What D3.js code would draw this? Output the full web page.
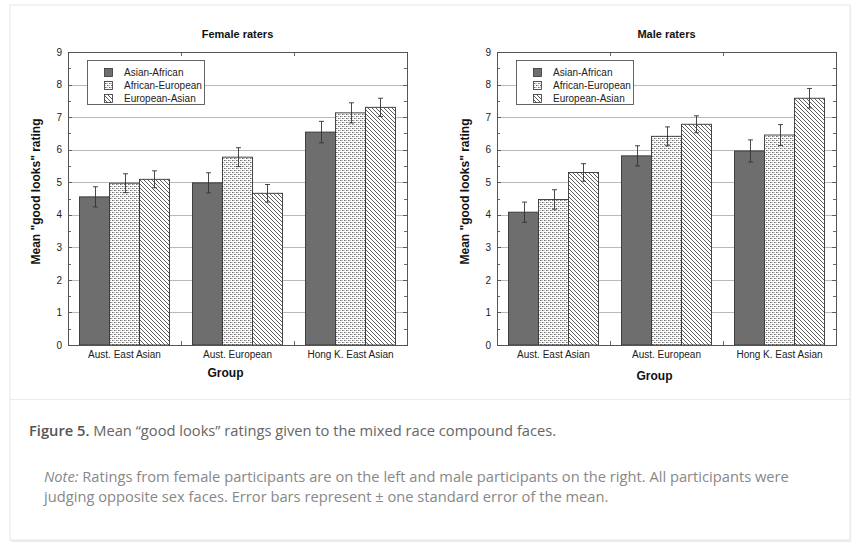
<!DOCTYPE html>
<html>
<head>
<meta charset="utf-8">
<script src="https://cdn.jsdelivr.net/npm/d3@7"></script>
<style>
  html, body { margin: 0; padding: 0; background: #fff; }
  svg { display: block; }
</style>
</head>
<body>
<svg id="chart" width="859" height="545"></svg>
<script>
// ---- data ----
const groups = ['Aust. East Asian', 'Aust. European', 'Hong K. East Asian']
const series = ['Asian-African', 'African-European', 'European-Asian']
const yTicks = [0, 1, 2, 3, 4, 5, 6, 7, 8, 9]

// rows = groups, columns = series
const femaleMeans = [
  [4.55, 4.97, 5.09],
  [4.98, 5.77, 4.66],
  [6.54, 7.13, 7.30],
]
const femaleSE = [
  [0.31, 0.29, 0.26],
  [0.31, 0.29, 0.27],
  [0.33, 0.31, 0.28],
]
const maleMeans = [
  [4.08, 4.47, 5.30],
  [5.81, 6.41, 6.78],
  [5.96, 6.45, 7.58],
]
const maleSE = [
  [0.31, 0.30, 0.27],
  [0.31, 0.29, 0.26],
  [0.34, 0.32, 0.30],
]

const FONT = "'Liberation Sans', Arial, Helvetica, sans-serif"
const CAP_FONT = "'Open Sans', 'Noto Sans', sans-serif"

const svg = d3.select('#chart')

// ─── patterns ───
const defs = svg.append('defs')
const dots = defs.append('pattern')
  .attr('id', 'pat-dots').attr('patternUnits', 'userSpaceOnUse')
  .attr('width', 4).attr('height', 4)
dots.append('rect').attr('width', 4).attr('height', 4).attr('fill', '#fff')
// stipple: strong specks on a checker, faint ones in between
;[[0, 0, '#6a6a6a'], [2, 2, '#6a6a6a'], [2, 0, '#c4c4c4'], [0, 2, '#c4c4c4']].forEach(([x, y, c]) => {
  dots.append('rect').attr('x', x).attr('y', y).attr('width', 1).attr('height', 1).attr('fill', c)
})
dots.append('rect').attr('x', 1).attr('y', 0).attr('width', 1).attr('height', 1).attr('fill', '#b0b0b0')
dots.append('rect').attr('x', 3).attr('y', 2).attr('width', 1).attr('height', 1).attr('fill', '#b0b0b0')

const hatch = defs.append('pattern')
  .attr('id', 'pat-hatch').attr('patternUnits', 'userSpaceOnUse')
  .attr('width', 4).attr('height', 4)
hatch.append('rect').attr('width', 4).attr('height', 4).attr('fill', '#fff')
hatch.append('path')
  .attr('d', 'M-1,-1 L5,5 M-1,3 L1,5 M3,-1 L5,1')
  .attr('stroke', '#333').attr('stroke-width', 0.8)

const fills = ['#6e6e6e', 'url(#pat-dots)', 'url(#pat-hatch)']

// ─── card ───
svg.append('rect')
  .attr('x', 11).attr('y', 7).attr('width', 840).attr('height', 535)
  .attr('fill', '#ececec')
svg.append('rect')
  .attr('x', 10).attr('y', 5).attr('width', 840).attr('height', 535)
  .attr('fill', '#fff').attr('stroke', '#e8e8e8')
svg.append('line')
  .attr('x1', 10).attr('x2', 850).attr('y1', 399.5).attr('y2', 399.5)
  .attr('stroke', '#ececec')

// ─── one panel ───
function drawPanel(title, means, ses, left, right, groupY) {
  const top = 52, bottom = 345
  const g = svg.append('g')

  const y = d3.scaleLinear().domain([0, 9]).range([bottom, top])
  const x0 = d3.scaleBand().domain(groups).range([left, right])
  const bw = x0.bandwidth()
  const x1 = d3.scaleBand().domain(series).range([bw * 0.102, bw * 0.898])

  // gridlines
  g.append('g').selectAll('line')
    .data(yTicks.filter(d => d > 0 && d < 9))
    .join('line')
    .attr('x1', left).attr('x2', right)
    .attr('y1', d => Math.round(y(d)) + 0.5).attr('y2', d => Math.round(y(d)) + 0.5)
    .attr('stroke', '#a8a8a8').attr('stroke-width', 0.8)

  // bars
  const rows = []
  means.forEach((row, gi) => row.forEach((v, si) => rows.push({
    group: groups[gi], series: series[si], si, v, se: ses[gi][si]
  })))

  g.append('g').selectAll('rect')
    .data(rows)
    .join('rect')
    .attr('x', d => x0(d.group) + x1(d.series))
    .attr('y', d => y(d.v))
    .attr('width', x1.bandwidth())
    .attr('height', d => y(0) - y(d.v))
    .attr('fill', d => fills[d.si])
    .attr('stroke', '#333').attr('stroke-width', 0.9)

  // error bars
  const eb = g.append('g').attr('stroke', '#333').attr('stroke-width', 0.9)
  rows.forEach(d => {
    const cx = Math.round(x0(d.group) + x1(d.series) + x1.bandwidth() / 2) + 0.5
    const yt = y(d.v + d.se), yb = y(d.v - d.se)
    eb.append('line').attr('x1', cx).attr('x2', cx).attr('y1', yt).attr('y2', yb)
    eb.append('line').attr('x1', cx - 2.5).attr('x2', cx + 2.5).attr('y1', yt).attr('y2', yt)
    eb.append('line').attr('x1', cx - 2.5).attr('x2', cx + 2.5).attr('y1', yb).attr('y2', yb)
  })

  // frame
  g.append('rect')
    .attr('x', left + 0.5).attr('y', top + 0.5)
    .attr('width', right - left).attr('height', bottom - top)
    .attr('fill', 'none').attr('stroke', '#555').attr('stroke-width', 1)

  // y ticks (inward on both sides, minor at halves)
  const halfTicks = d3.range(0.5, 9, 1)
  const tk = g.append('g').attr('stroke', '#555').attr('stroke-width', 0.9)
  yTicks.forEach(d => {
    const yy = Math.round(y(d)) + 0.5
    tk.append('line').attr('x1', left).attr('x2', left + 4).attr('y1', yy).attr('y2', yy)
    tk.append('line').attr('x1', right - 4).attr('x2', right).attr('y1', yy).attr('y2', yy)
  })
  halfTicks.forEach(d => {
    const yy = Math.round(y(d)) + 0.5
    tk.append('line').attr('x1', left).attr('x2', left + 3).attr('y1', yy).attr('y2', yy)
    tk.append('line').attr('x1', right - 3).attr('x2', right).attr('y1', yy).attr('y2', yy)
  })
  // group boundary ticks
  groups.slice(1).forEach(grp => {
    const xx = Math.round(x0(grp)) + 0.5
    tk.append('line').attr('x1', xx).attr('x2', xx).attr('y1', top).attr('y2', top + 4)
    tk.append('line').attr('x1', xx).attr('x2', xx).attr('y1', bottom - 4).attr('y2', bottom)
  })

  // y axis labels
  const yAxis = d3.axisLeft(y).tickValues(yTicks).tickSize(0).tickPadding(6)
  g.append('g')
    .attr('transform', `translate(${left},0)`)
    .call(yAxis)
    .call(a => a.select('.domain').remove())
    .call(a => a.selectAll('.tick text')
      .attr('font-size', '10px').attr('font-family', FONT).attr('fill', '#222'))

  // x axis labels
  const xAxis = d3.axisBottom(x0).tickSize(0).tickPadding(6)
  g.append('g')
    .attr('transform', `translate(0,${bottom})`)
    .call(xAxis)
    .call(a => a.select('.domain').remove())
    .call(a => a.selectAll('.tick text')
      .attr('font-size', '10px').attr('font-family', FONT).attr('fill', '#222'))

  // titles
  const cx = (left + right) / 2
  g.append('text')
    .attr('x', cx).attr('y', 38)
    .attr('text-anchor', 'middle')
    .attr('font-size', '11px').attr('font-weight', 'bold').attr('font-family', FONT)
    .attr('fill', '#111')
    .text(title)

  g.append('text')
    .attr('x', cx - 12).attr('y', groupY)
    .attr('text-anchor', 'middle')
    .attr('font-size', '12px').attr('font-weight', 'bold').attr('font-family', FONT)
    .attr('fill', '#111')
    .text('Group')

  g.append('text')
    .attr('transform', `translate(${left - 28},${(top + bottom) / 2 - 7}) rotate(-90)`)
    .attr('text-anchor', 'middle')
    .attr('font-size', '12px').attr('font-weight', 'bold').attr('font-family', FONT)
    .attr('fill', '#111')
    .text('Mean "good looks" rating')

  // legend
  const lg = g.append('g').attr('transform', `translate(${left + 19},60)`)
  lg.append('rect')
    .attr('x', 0.5).attr('y', 0.5).attr('width', 117).attr('height', 44)
    .attr('fill', '#fff').attr('stroke', '#555').attr('stroke-width', 0.9)
  series.forEach((s, i) => {
    const row = lg.append('g').attr('transform', `translate(0,${8 + i * 13})`)
    row.append('rect')
      .attr('x', 17.5).attr('y', 0.5).attr('width', 8).attr('height', 8)
      .attr('fill', fills[i]).attr('stroke', '#333').attr('stroke-width', 0.8)
    row.append('text')
      .attr('x', 37).attr('y', 8)
      .attr('font-size', '10px').attr('font-family', FONT).attr('fill', '#222')
      .text(s)
  })
}

drawPanel('Female raters', femaleMeans, femaleSE, 68, 407, 377)
drawPanel('Male raters', maleMeans, maleSE, 497, 836, 380)

// ─── caption ───
const cap = svg.append('text')
  .attr('x', 29).attr('y', 436)
  .attr('font-size', '14.7px').attr('font-family', CAP_FONT).attr('fill', '#666')
cap.append('tspan').attr('font-weight', 600).attr('fill', '#555').text('Figure 5.')
cap.append('tspan').text(' Mean “good looks” ratings given to the mixed race compound faces.')

const note1 = svg.append('text')
  .attr('x', 44).attr('y', 482)
  .attr('font-size', '14.7px').attr('font-family', CAP_FONT).attr('fill', '#888')
note1.append('tspan').attr('font-style', 'italic').text('Note:')
note1.append('tspan').text(' Ratings from female participants are on the left and male participants on the right. All participants were')

svg.append('text')
  .attr('x', 44).attr('y', 502)
  .attr('font-size', '14.7px').attr('font-family', CAP_FONT).attr('fill', '#888')
  .text('judging opposite sex faces. Error bars represent ± one standard error of the mean.')
</script>
</body>
</html>
